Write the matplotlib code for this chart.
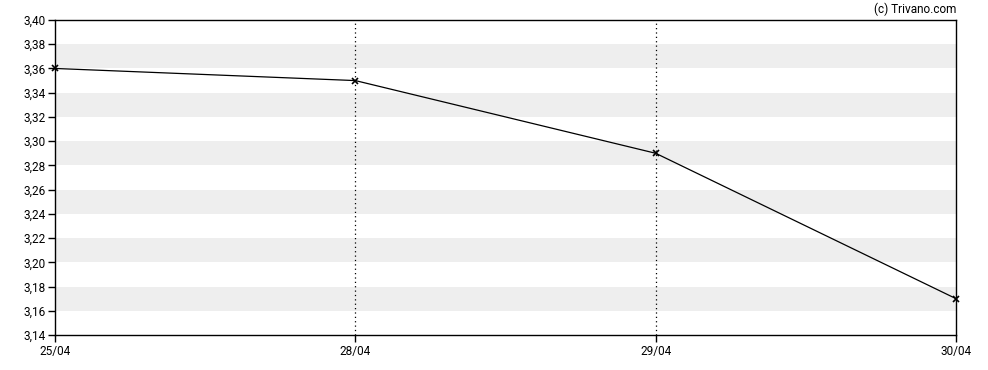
import matplotlib.pyplot as plt
from matplotlib.ticker import FuncFormatter

dates = ['25/04', '28/04', '29/04', '30/04']
prices = [3.36, 3.35, 3.29, 3.17]
y_ticks = [3.14 + 0.02 * i for i in range(14)]

plt.rcParams['font.family'] = ['Roboto', 'DejaVu Sans']

fig = plt.figure(figsize=(9.88, 3.7), dpi=100)
ax = fig.add_axes([55 / 988, 35 / 370, 901 / 988, 315 / 370])

x = list(range(len(dates)))
ax.set_xlim(0, len(dates) - 1)
ax.set_ylim(3.14, 3.40)

# grey bands every other step
for i in range(len(y_ticks) - 1):
    if i % 2 == 1:
        ax.axhspan(y_ticks[i], y_ticks[i + 1], color='#eeeeee', lw=0, zorder=0)

for xi in x[1:-1]:
    ax.axvline(xi, color='black', lw=0.9, ls=(0, (1, 2.5)), zorder=1)

ax.plot(x, prices, color='black', lw=0.9, marker='x', ms=4, mew=1.2, zorder=3, clip_on=False)

ax.set_yticks(y_ticks)
ax.yaxis.set_major_formatter(FuncFormatter(lambda v, p: f'{v:.2f}'.replace('.', ',')))
ax.set_xticks(x)
ax.set_xticklabels(dates)
ax.tick_params(labelsize=8.5, length=5, width=1, color='black', pad=2)
for s in ax.spines.values():
    s.set_linewidth(1)

fig.text(956 / 988, 1 - 9 / 370, '(c) Trivano.com', ha='right', va='center', fontsize=8.5)

fig.savefig('out.png', dpi=100)
